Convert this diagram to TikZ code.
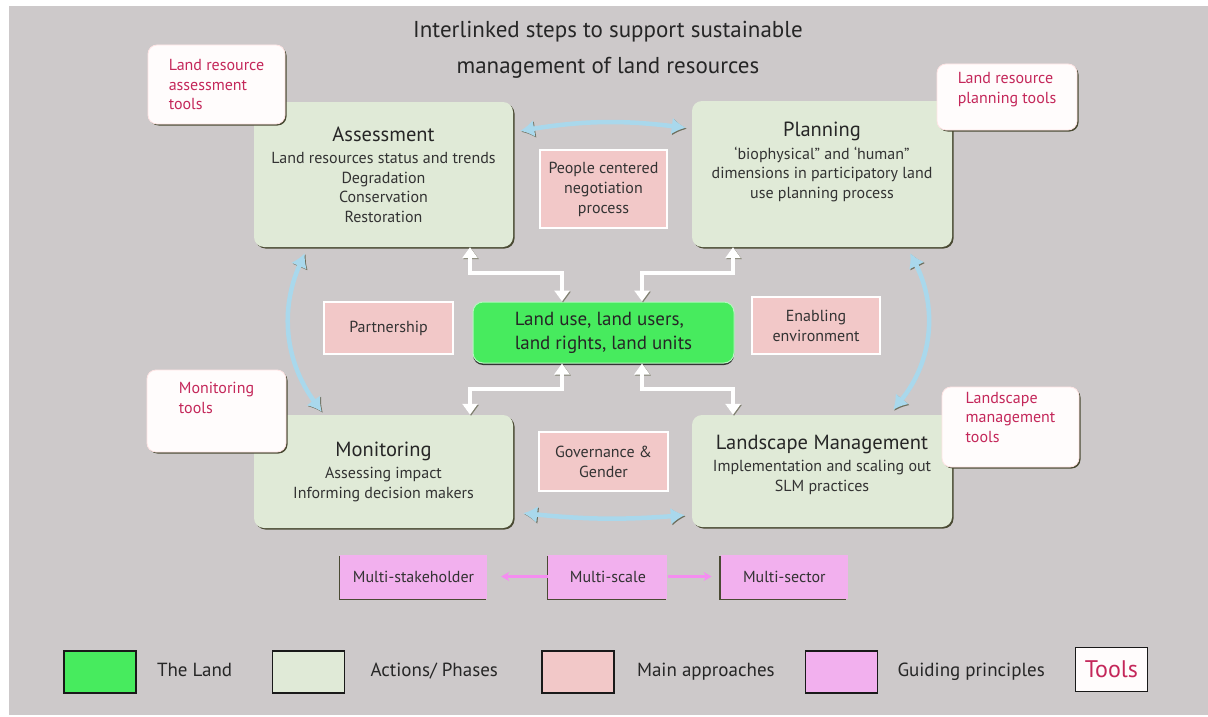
\documentclass[tikz,border=0pt]{standalone}
\usepackage{fontspec}
\setmainfont{PT Sans}
\usetikzlibrary{arrows.meta, positioning, shadows, calc}

\definecolor{bggray}{HTML}{CDC9CA}
\definecolor{actgreen}{HTML}{E0EAD7}
\definecolor{landgreen}{HTML}{47EB5E}
\definecolor{apppink}{HTML}{F2C8C8}
\definecolor{guideviolet}{HTML}{F2B0EE}
\definecolor{toolred}{HTML}{C4275A}
\definecolor{cycleblue}{HTML}{A9D8EC}
\definecolor{shadowolive}{HTML}{4A4A33}
\definecolor{textgray}{HTML}{333333}

\newcommand{\acttitle}[1]{{\fontsize{20.5}{23}\selectfont\color{black!85}#1}}

\begin{document}
\begin{tikzpicture}[
    x=1pt, y=-1pt,
    actbox/.style={rectangle, rounded corners=10pt, fill=actgreen, text=textgray, align=center, inner sep=0pt, font=\fontsize{16}{19.5}\selectfont, general shadow={fill=shadowolive, shadow xshift=1.5pt, shadow yshift=-1.5pt}},
    toolbox/.style={rectangle, rounded corners=9pt, fill=white!99!red, draw=red!10, line width=0.8pt, text=toolred, align=left, font=\fontsize{16}{19.5}\selectfont, general shadow={fill=shadowolive, shadow xshift=1.5pt, shadow yshift=-1.5pt}},
    appbox/.style={rectangle, fill=apppink, draw=white, line width=1.5pt, text=textgray, align=center, font=\fontsize{16}{20}\selectfont, general shadow={fill=shadowolive!80, shadow xshift=1.2pt, shadow yshift=-1.2pt}},
    landbox/.style={rectangle, rounded corners=10pt, fill=landgreen, draw=white!60!landgreen, line width=1pt, text=black!85, align=left, font=\fontsize{19}{24}\selectfont, general shadow={fill=black!80, shadow xshift=0pt, shadow yshift=-2pt}},
    guidebox/.style={rectangle, fill=guideviolet, text=textgray, font=\fontsize{16}{19}\selectfont, minimum height=44pt, general shadow={fill=shadowolive, shadow xshift=-1.5pt, shadow yshift=-1.5pt}},
    legbox/.style={rectangle, draw=black!90, line width=1.6pt, minimum width=72pt, minimum height=42pt, inner sep=0pt},
    legtext/.style={font=\fontsize{19}{21}\selectfont, text=black!85, inner sep=0pt, text height=13pt, text depth=4pt},
    wharrow/.style={{Triangle[width=15pt,length=11pt]}-{Triangle[width=15pt,length=11pt]}, draw=white, line width=4pt, preaction={draw=shadowolive!70, transform canvas={shift={(1pt,-1pt)}}}},
    cyclearrow/.style={{Latex[width=17pt,length=14pt]}-{Latex[width=17pt,length=14pt]}, draw=cycleblue, line width=4.5pt, preaction={draw=shadowolive!80, transform canvas={shift={(1pt,-1pt)}}}},
    guidearrow/.style={-{Stealth[length=8pt,width=9pt]}, draw=guideviolet!80!magenta, line width=2.5pt}
]
\useasboundingbox (0,0) rectangle (1208,717);
\fill[white] (0,0) rectangle (1208,717);
\fill[bggray] (9,6) rectangle (1208,715);

% Title
\node[font=\fontsize{23}{36}\selectfont, text=black!85, align=center] (title) at (608,50) {Interlinked steps to support sustainable\\management of land resources};

% Actions / phases
\node[actbox, minimum width=259pt, minimum height=145pt] (assess) at (383.5,174.5) {\acttitle{Assessment}\\[3pt] Land resources status and trends\\ Degradation\\ Conservation\\ Restoration};
\node[actbox, minimum width=260pt, minimum height=146pt, text depth=28pt] (plan) at (822,174) {\acttitle{Planning}\\[3pt] ‘biophysical” and ‘human”\\ dimensions in participatory land\\ use planning process};
\node[actbox, minimum width=259pt, minimum height=113pt] (monit) at (383.5,471.5) {\acttitle{Monitoring}\\[3pt] Assessing impact\\ Informing decision makers};
\node[actbox, minimum width=260pt, minimum height=112pt, text depth=16pt] (landsc) at (822,471) {\acttitle{Landscape Management}\\[3pt] Implementation and scaling out\\ SLM practices};

% Tools
\node[toolbox, minimum width=137pt, minimum height=79pt] (asstools) at (216.5,84.5) {Land resource\\assessment\\tools};
\node[toolbox, minimum width=140pt, minimum height=66pt, text depth=18pt] (plantools) at (1007,97) {Land resource\\planning tools};
\node[toolbox, minimum width=139pt, minimum height=82pt, text depth=26pt] (montools) at (216.5,411) {Monitoring\\tools};
\node[toolbox, minimum width=137pt, minimum height=80pt, text depth=20pt] (landtools) at (1010.5,427) {Landscape\\management\\tools};

% Main approaches
\node[appbox, minimum width=127pt, minimum height=78pt] (people) at (603.5,189) {People centered\\negotiation\\process};
\node[appbox, minimum width=129pt, minimum height=52pt] (partner) at (388.5,328) {Partnership};
\node[appbox, minimum width=128pt, minimum height=57pt] (enabling) at (816,325.5) {Enabling\\environment};
\node[appbox, minimum width=129pt, minimum height=59pt] (govern) at (603.5,461.5) {Governance \&\\Gender};

% The land
\node[landbox, minimum width=261pt, minimum height=61pt] (land) at (603.5,332.5) {Land use, land users,\\land rights, land units};

% Links to the land
\draw[wharrow] (470,0 |- assess.south) -- ++(0,26) -| (562,0 |- land.north);
\draw[wharrow] (733,0 |- plan.south) -- ++(0,26) -| (642,0 |- land.north);
\draw[wharrow] (562,0 |- land.south) -- ++(0,25) -| (470,0 |- monit.north);
\draw[wharrow] (642,0 |- land.south) -- ++(0,25) -| (733,0 |- landsc.north);

% Cycle between phases
\draw[cyclearrow] ($(assess.north east)+(7,29)$) to[bend left=8] ($(plan.north west)+(-6,27)$);
\draw[cyclearrow] ($(monit.south east)+(10,-15)$) to[bend right=5] ($(landsc.south west)+(-7,-12)$);
\draw[cyclearrow] ($(assess.south west)+(51,6)$) to[bend right=30] ($(monit.north west)+(68,-3)$);
\draw[cyclearrow] ($(plan.south east)+(-42,6)$) to[bend left=33] ($(landsc.north east)+(-59,-5)$);

% Guiding principles
\node[guidebox, minimum width=147pt] (stake) at (413.5,576.5) {Multi-stakeholder};
\node[guidebox, minimum width=119pt, right=61pt of stake] (scale) {Multi-scale};
\node[guidebox, minimum width=127pt, right=53pt of scale] (sector) {Multi-sector};
\draw[guidearrow, shorten >=14pt] (scale) -- (stake);
\draw[guidearrow, shorten >=9pt] (scale) -- (sector);

% Legend
\node[legbox, fill=landgreen] (lgland) at (100,672) {};
\node[legtext, right=20pt of lgland] (lgtxtland) {The Land};
\node[legbox, fill=actgreen] (lgact) at (308.5,672) {};
\node[legtext, right=25pt of lgact] (lgtxtact) {Actions/ Phases};
\node[legbox, fill=apppink] (lgapp) at (578,672) {};
\node[legtext, right=22pt of lgapp] (lgtxtapp) {Main approaches};
\node[legbox, fill=guideviolet] (lgguide) at (841.5,672) {};
\node[legtext, right=19pt of lgguide] (lgtxtguide) {Guiding principles};
\node[legbox, fill=white!99!red, text=toolred, font=\fontsize{24}{26}\selectfont, minimum height=44pt] (lgtools) at (1111.5,669.5) {Tools};

\end{tikzpicture}
\end{document}
